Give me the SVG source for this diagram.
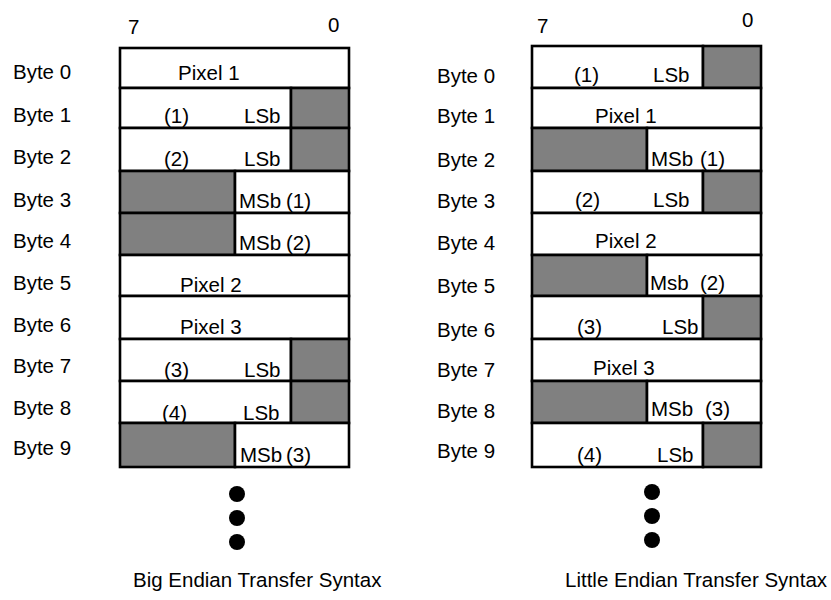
<svg xmlns="http://www.w3.org/2000/svg" width="831" height="600" viewBox="0 0 831 600">
<style>
text{font-family:"Liberation Sans",Arial,Helvetica,sans-serif;font-size:20.5px;fill:#000}
.w{fill:#fff;stroke:#000;stroke-width:2.6}
.g{fill:#808080;stroke:#000;stroke-width:2.6}
.dot{fill:#000}
</style>
<rect x="0" y="0" width="831" height="600" fill="#fff"/>

<g id="big-endian">
<g id="be-bits"><text x="128" y="34">7</text><text x="328" y="32">0</text></g>
<g id="be-labels">
<text x="13" y="79">Byte 0</text><text x="13" y="122">Byte 1</text><text x="13" y="164">Byte 2</text><text x="13" y="207">Byte 3</text><text x="13" y="248">Byte 4</text>
<text x="13" y="290">Byte 5</text><text x="13" y="332">Byte 6</text><text x="13" y="373">Byte 7</text><text x="13" y="415">Byte 8</text><text x="13" y="455">Byte 9</text>
</g>
<g id="be-byte0"><rect class="w" x="120" y="48" width="229" height="40"/><text x="178" y="80">Pixel 1</text></g>
<g id="be-byte1"><rect class="w" x="120" y="88" width="171" height="40"/><rect class="g" x="291" y="88" width="58" height="40"/><text x="164" y="123">(1)</text><text x="244" y="123">LSb</text></g>
<g id="be-byte2"><rect class="w" x="120" y="128" width="171" height="43"/><rect class="g" x="291" y="128" width="58" height="43"/><text x="164" y="166">(2)</text><text x="244" y="166">LSb</text></g>
<g id="be-byte3"><rect class="g" x="120" y="171" width="115" height="42"/><rect class="w" x="235" y="171" width="114" height="42"/><text x="239" y="208">MSb</text><text x="286" y="208">(1)</text></g>
<g id="be-byte4"><rect class="g" x="120" y="213" width="115" height="42"/><rect class="w" x="235" y="213" width="114" height="42"/><text x="239" y="250">MSb</text><text x="286" y="250">(2)</text></g>
<g id="be-byte5"><rect class="w" x="120" y="255" width="229" height="41"/><text x="180" y="292">Pixel 2</text></g>
<g id="be-byte6"><rect class="w" x="120" y="296" width="229" height="43"/><text x="180" y="334">Pixel 3</text></g>
<g id="be-byte7"><rect class="w" x="120" y="339" width="171" height="42"/><rect class="g" x="291" y="339" width="58" height="42"/><text x="164" y="377">(3)</text><text x="244" y="377">LSb</text></g>
<g id="be-byte8"><rect class="w" x="120" y="381" width="171" height="42"/><rect class="g" x="291" y="381" width="58" height="42"/><text x="162" y="420">(4)</text><text x="243" y="420">LSb</text></g>
<g id="be-byte9"><rect class="g" x="120" y="423" width="115" height="44"/><rect class="w" x="235" y="423" width="114" height="44"/><text x="240" y="462">MSb</text><text x="286" y="462">(3)</text></g>
<g id="be-more"><circle class="dot" cx="237" cy="494" r="8"/><circle class="dot" cx="237" cy="518" r="8"/><circle class="dot" cx="237" cy="542" r="8"/></g>
<g id="be-title"><text x="133" y="587">Big Endian Transfer Syntax</text></g>
</g>

<g id="little-endian">
<g id="le-bits"><text x="537" y="33">7</text><text x="742" y="27">0</text></g>
<g id="le-labels">
<text x="437" y="83">Byte 0</text><text x="437" y="123">Byte 1</text><text x="437" y="167">Byte 2</text><text x="437" y="208">Byte 3</text><text x="437" y="250">Byte 4</text>
<text x="437" y="293">Byte 5</text><text x="437" y="337">Byte 6</text><text x="437" y="377">Byte 7</text><text x="437" y="418">Byte 8</text><text x="437" y="458">Byte 9</text>
</g>
<g id="le-byte0"><rect class="w" x="532" y="46" width="171" height="42"/><rect class="g" x="703" y="46" width="58" height="42"/><text x="574" y="82">(1)</text><text x="653" y="82">LSb</text></g>
<g id="le-byte1"><rect class="w" x="532" y="88" width="229" height="40"/><text x="595" y="123">Pixel 1</text></g>
<g id="le-byte2"><rect class="g" x="532" y="128" width="115" height="43"/><rect class="w" x="647" y="128" width="114" height="43"/><text x="651" y="166">MSb</text><text x="700" y="166">(1)</text></g>
<g id="le-byte3"><rect class="w" x="532" y="171" width="171" height="42"/><rect class="g" x="703" y="171" width="58" height="42"/><text x="575" y="207">(2)</text><text x="653" y="207">LSb</text></g>
<g id="le-byte4"><rect class="w" x="532" y="213" width="229" height="42"/><text x="595" y="248">Pixel 2</text></g>
<g id="le-byte5"><rect class="g" x="532" y="255" width="115" height="41"/><rect class="w" x="647" y="255" width="114" height="41"/><text x="650" y="290">Msb</text><text x="700" y="290">(2)</text></g>
<g id="le-byte6"><rect class="w" x="532" y="296" width="171" height="43"/><rect class="g" x="703" y="296" width="58" height="43"/><text x="577" y="334">(3)</text><text x="662" y="334">LSb</text></g>
<g id="le-byte7"><rect class="w" x="532" y="339" width="229" height="42"/><text x="593" y="375">Pixel 3</text></g>
<g id="le-byte8"><rect class="g" x="532" y="381" width="115" height="42"/><rect class="w" x="647" y="381" width="114" height="42"/><text x="651" y="416">MSb</text><text x="705" y="416">(3)</text></g>
<g id="le-byte9"><rect class="w" x="532" y="423" width="171" height="44"/><rect class="g" x="703" y="423" width="58" height="44"/><text x="577" y="462">(4)</text><text x="657" y="462">LSb</text></g>
<g id="le-more"><circle class="dot" cx="652" cy="492" r="8"/><circle class="dot" cx="652" cy="516" r="8"/><circle class="dot" cx="652" cy="540" r="8"/></g>
<g id="le-title"><text x="565" y="587">Little Endian Transfer Syntax</text></g>
</g>

<g id="connectors"/>
</svg>
